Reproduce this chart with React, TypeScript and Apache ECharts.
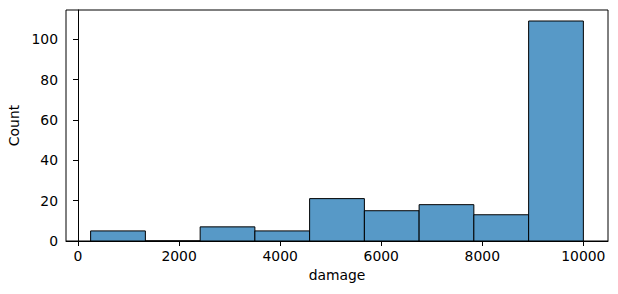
import React, { useEffect, useRef } from "react";
import * as echarts from "echarts";

const binEdges = [250, 1333, 2417, 3500, 4583, 5667, 6750, 7833, 8917, 10000];
const counts = [5, 0, 7, 5, 21, 15, 18, 13, 109];
const xTicks = [0, 2000, 4000, 6000, 8000, 10000];
const yTicks = [0, 20, 40, 60, 80, 100];
const xName = "damage";
const yName = "Count";

export default function App() {
  const ref = useRef<HTMLDivElement>(null);
  useEffect(() => {
    if (!ref.current) return;
    const chart = echarts.init(ref.current, null, { renderer: "svg" });
    const lo = binEdges[0];
    const hi = binEdges[binEdges.length - 1];
    const maxC = Math.max(...counts);
    const xm = (hi - lo) * 0.05;
    const font = "DejaVu Sans";
    const data = counts.map((c, i) => [binEdges[i], binEdges[i + 1], c]);
    const fmt = (v: number) => String(Math.round(v));
    chart.setOption({
      animation: false,
      grid: {
        left: 66,
        right: 10,
        top: 10,
        bottom: 53,
        containLabel: false,
        outerBoundsMode: "none",
        show: true,
        borderColor: "#000",
        borderWidth: 1,
        backgroundColor: "transparent",
      },
      xAxis: {
        type: "value",
        min: lo - xm,
        max: hi + xm,
        name: xName,
        nameLocation: "middle",
        nameGap: 27,
        nameTextStyle: { color: "#000", fontFamily: font, fontSize: 13.9 },
        splitLine: { show: false },
        axisLine: { show: true, onZero: false, lineStyle: { color: "#000", width: 1 } },
        axisTick: { show: true, length: 5, lineStyle: { color: "#000" }, customValues: xTicks },
        axisLabel: { color: "#000", fontFamily: font, fontSize: 13.9, margin: 8, customValues: xTicks, formatter: fmt },
      },
      yAxis: {
        type: "value",
        min: 0,
        max: maxC * 1.05,
        name: yName,
        nameLocation: "middle",
        nameGap: 42,
        nameTextStyle: { color: "#000", fontFamily: font, fontSize: 13.9 },
        splitLine: { show: false },
        axisLine: { show: true, lineStyle: { color: "#000", width: 1 } },
        axisTick: { show: true, length: 5, lineStyle: { color: "#000" }, customValues: yTicks },
        axisLabel: { color: "#000", fontFamily: font, fontSize: 13.9, margin: 8, customValues: yTicks, formatter: fmt },
      },
      series: [
        {
          type: "custom",
          encode: { x: [0, 1], y: 2 },
          data,
          renderItem: (params: any, api: any) => {
            const x0 = api.value(0);
            const x1 = api.value(1);
            const c = api.value(2);
            const p0 = api.coord([x0, c]);
            const p1 = api.coord([x1, 0]);
            return {
              type: "rect",
              shape: { x: p0[0], y: p0[1], width: p1[0] - p0[0], height: p1[1] - p0[1] },
              style: { fill: "#5799c7", stroke: "#000", lineWidth: 1 },
            };
          },
        },
      ],
    });
    return () => chart.dispose();
  }, []);
  return (
    <div
      ref={ref}
      style={{ position: "fixed", left: 0, top: 0, width: 618, height: 294, background: "#fff" }}
    />
  );
}
